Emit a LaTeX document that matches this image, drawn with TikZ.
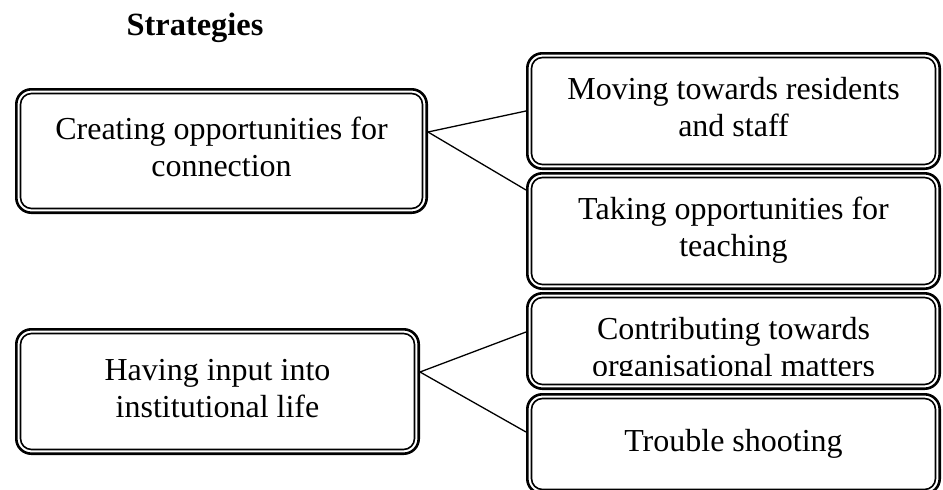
\documentclass[tikz,border=0pt]{standalone}
\usepackage{fontspec}
\setmainfont{Liberation Serif}
\usetikzlibrary{positioning, calc}

\begin{document}
\begin{tikzpicture}
        [
            x=1pt, y=-1pt,
            box/.style={rectangle, draw, line width=2.6pt, rounded corners=15pt,
                        minimum width=412.4pt, minimum height=#1, align=center,
                        inner sep=0pt, font=\fontsize{32}{37}\selectfont},
            inner/.style={draw, line width=1.6pt, rounded corners=11pt},
            link/.style={draw, line width=1.3pt},
            txt/.style={align=center, inner sep=0pt, font=\fontsize{32}{37}\selectfont}
        ]
        \clip (0,0) rectangle (943,490);
        \node (title) [anchor=base, font=\fontsize{32.4}{37}\selectfont\bfseries] at (195,35) {Strategies};
        \node (l1) [box=123.4pt, minimum width=410.4pt] at (221.5,151)
            {\strut Creating opportunities for\\\strut connection};
        \node (l2) [box=124.4pt, minimum width=402.4pt] at (217.5,391.5)
            {\strut Having input into\\\strut institutional life};
        \node (r1) [box=115.4pt] at (733.5,111)
            {\strut Moving towards residents\\\strut and staff};
        \node (r2) [box=115.4pt, below=2pt of r1]
            {\strut Taking opportunities for\\\strut teaching};
        \node (r3) [box=95.4pt, below=2pt of r2] {};
        \node (r4) [box=99.4pt, below=3pt of r3] {\strut Trouble shooting};
        \begin{scope}
            \clip ([shift={(5.5pt,15pt)}]r3.south west) rectangle ([shift={(-5.5pt,-5.5pt)}]r3.north east);
            \node (t3) [txt] at ([yshift=-10pt]r3.center)
                {\strut Contributing towards\\\strut organisational matters};
        \end{scope}
        \foreach \n in {l1,l2,r1,r2,r3,r4}
            \draw [inner] ([shift={(5.5pt,5.5pt)}]\n.south west) rectangle ([shift={(-5.5pt,-5.5pt)}]\n.north east);
        \foreach \i/\j/\s/\t in {l1/r1/19/0,l1/r2/19/41,l2/r3/19.5/9,l2/r4/19.5/12}
            \draw [link] ([yshift=\s pt]\i.east) -- ([yshift=\t pt]\j.west);
    \end{tikzpicture}
\end{document}
